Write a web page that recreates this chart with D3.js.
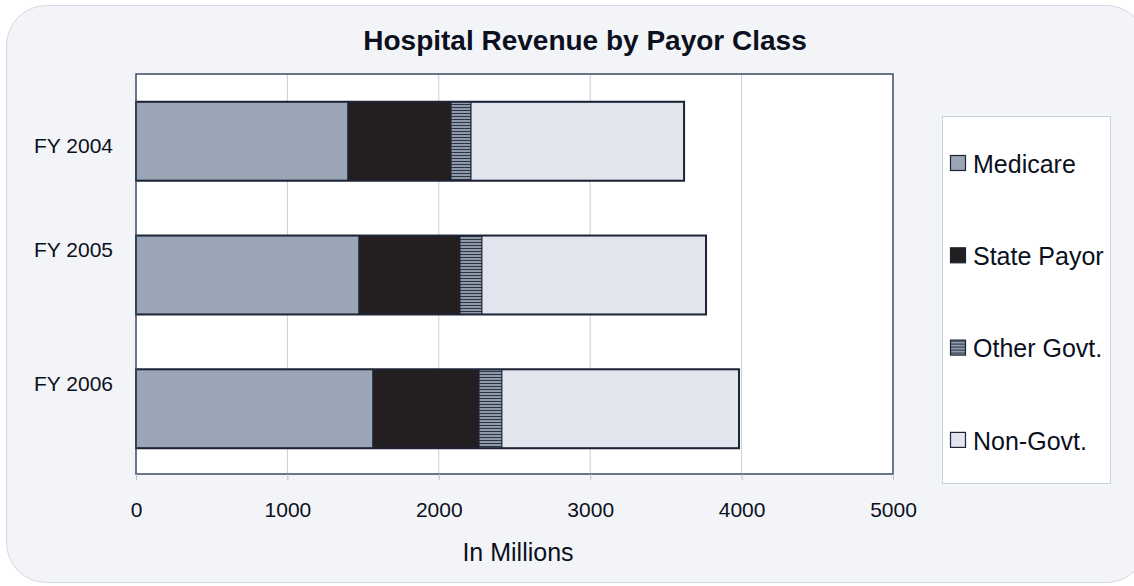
<!DOCTYPE html>
<html>
<head>
<meta charset="utf-8">
<script src="https://cdn.jsdelivr.net/npm/d3@7"></script>
<style>
  body { margin: 0; background: #fff; }
  text { font-family: "Liberation Sans", Arial, sans-serif; fill: #0b1020; }
</style>
</head>
<body>
<div id="chart"></div>
<script>
var years = ["FY 2004", "FY 2005", "FY 2006"];
var payors = ["Medicare", "State Payor", "Other Govt.", "Non-Govt."];
var medicare = [1400, 1473, 1565];
var statePayor = [681, 667, 701];
var otherGovt = [132, 145, 151];
var nonGovt = [1407, 1480, 1566];
var xTicks = [0, 1000, 2000, 3000, 4000, 5000];

var width = 1134, height = 586;
var plot = { left: 136, top: 74, right: 893, bottom: 474 };
// category labels sit a bit off the bar centres, as in the original
var labelShift = [5, -24, -24];

var svg = d3.select("#chart").append("svg")
    .attr("width", width)
    .attr("height", height);

var defs = svg.append("defs");
var pat = defs.append("pattern")
    .attr("id", "stripes")
    .attr("patternUnits", "userSpaceOnUse")
    .attr("width", 4).attr("height", 3);
pat.append("rect").attr("width", 4).attr("height", 3).attr("fill", "#8e99aa");
pat.append("rect").attr("y", 2).attr("width", 4).attr("height", 1).attr("fill", "#2e3442");

// background panel
svg.append("rect")
    .attr("x", 6.5).attr("y", 5.5)
    .attr("width", 1140).attr("height", 577)
    .attr("rx", 40).attr("ry", 40)
    .attr("fill", "#f3f4f7")
    .attr("stroke", "#d2d7e1");

svg.append("text")
    .attr("x", 585).attr("y", 50)
    .attr("text-anchor", "middle")
    .style("font-size", "28px")
    .style("font-weight", "bold")
    .text("Hospital Revenue by Payor Class");

var x = d3.scaleLinear().domain([0, 5000]).range([plot.left, plot.right]);
var y = d3.scaleBand().domain(years).range([plot.top, plot.bottom]).paddingInner(0.41).paddingOuter(0.2);

svg.append("rect")
    .attr("x", plot.left).attr("y", plot.top)
    .attr("width", plot.right - plot.left).attr("height", plot.bottom - plot.top)
    .attr("fill", "#fff");

// gridlines
svg.append("g").selectAll("line")
    .data(xTicks.slice(1, -1))
    .enter().append("line")
    .attr("x1", function(d) { return x(d); })
    .attr("x2", function(d) { return x(d); })
    .attr("y1", plot.top).attr("y2", plot.bottom)
    .attr("stroke", "#c9cfd9").attr("stroke-width", 1);

var series = [medicare, statePayor, otherGovt, nonGovt];
var fills = ["#9aa6b5", "#231f20", "url(#stripes)", "#e2e5ee"];
var rows = years.map(function(yr, i) {
    var r = { year: yr };
    payors.forEach(function(p, j) { r[p] = series[j][i]; });
    return r;
});
var stacked = d3.stack().keys(payors)(rows);

var layers = svg.append("g").selectAll("g")
    .data(stacked)
    .enter().append("g")
    .attr("fill", function(d, i) { return fills[i]; });

layers.selectAll("rect")
    .data(function(d) { return d; })
    .enter().append("rect")
    .attr("x", function(d) { return x(d[0]); })
    .attr("y", function(d) { return y(d.data.year) + 1; })
    .attr("width", function(d) { return x(d[1]) - x(d[0]); })
    .attr("height", y.bandwidth())
    .attr("stroke", "#1e2437")
    .attr("stroke-width", 1);

// outline around each full bar
svg.append("g").selectAll("rect")
    .data(rows)
    .enter().append("rect")
    .attr("x", x(0))
    .attr("y", function(d) { return y(d.year) + 1; })
    .attr("width", function(d) { return x(d3.sum(payors, function(p) { return d[p]; })) - x(0); })
    .attr("height", y.bandwidth())
    .attr("fill", "none")
    .attr("stroke", "#1e2437")
    .attr("stroke-width", 2);

svg.append("rect")
    .attr("x", plot.left).attr("y", plot.top)
    .attr("width", plot.right - plot.left).attr("height", plot.bottom - plot.top)
    .attr("fill", "none")
    .attr("stroke", "#3d4a63").attr("stroke-width", 1.5);

// x axis
var xAxis = svg.append("g")
    .attr("transform", "translate(0," + plot.bottom + ")")
    .call(d3.axisBottom(x).tickValues(xTicks).tickSize(6).tickPadding(22).tickFormat(d3.format("d")));
xAxis.select(".domain").remove();
xAxis.selectAll("line").attr("stroke", "#b9c0cc");
xAxis.selectAll("text").style("font-size", "21px").style("font-family", "'Liberation Sans', Arial, sans-serif").attr("fill", "#0b1020");

svg.append("text")
    .attr("x", 518).attr("y", 561)
    .attr("text-anchor", "middle")
    .style("font-size", "25px")
    .text("In Millions");

// y labels
svg.append("g").selectAll("text")
    .data(years)
    .enter().append("text")
    .attr("x", 34)
    .attr("y", function(d, i) { return y(d) + y.bandwidth() / 2 + labelShift[i]; })
    .attr("dy", "0.35em")
    .style("font-size", "21px")
    .text(function(d) { return d; });

// legend
svg.append("rect")
    .attr("x", 942.5).attr("y", 116.5)
    .attr("width", 168).attr("height", 367)
    .attr("fill", "#fff").attr("stroke", "#c9d1de");

var legendItems = svg.append("g").selectAll("g")
    .data(payors)
    .enter().append("g")
    .attr("transform", function(d, i) { return "translate(950," + (163 + i * 92.3) + ")"; });

legendItems.append("rect")
    .attr("x", 0.5).attr("y", -7.5)
    .attr("width", 15).attr("height", 15)
    .attr("fill", function(d, i) { return fills[i]; })
    .attr("stroke", "#1e2437").attr("stroke-width", 1.2);

legendItems.append("text")
    .attr("x", 23).attr("y", 1)
    .attr("dy", "0.35em")
    .style("font-size", "25px")
    .text(function(d) { return d; });
</script>
</body>
</html>
